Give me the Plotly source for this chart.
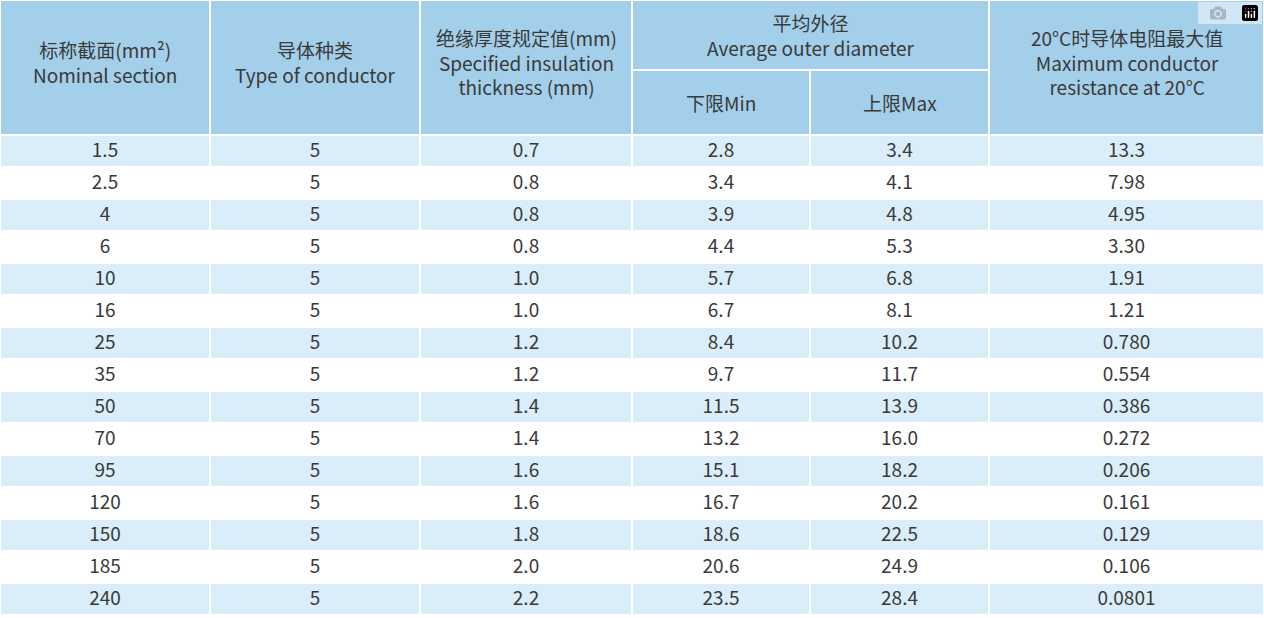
import plotly.graph_objects as go

sections = ["1.5","2.5","4","6","10","16","25","35","50","70","95","120","150","185","240"]
conductor = ["5"]*15
insulation = ["0.7","0.8","0.8","0.8","1.0","1.0","1.2","1.2","1.4","1.4","1.6","1.6","1.8","2.0","2.2"]
dmin = ["2.8","3.4","3.9","4.4","5.7","6.7","8.4","9.7","11.5","13.2","15.1","16.7","18.6","20.6","23.5"]
dmax = ["3.4","4.1","4.8","5.3","6.8","8.1","10.2","11.7","13.9","16.0","18.2","20.2","22.5","24.9","28.4"]
resist = ["13.3","7.98","4.95","3.30","1.91","1.21","0.780","0.554","0.386","0.272","0.206","0.161","0.129","0.106","0.0801"]

headers = ["标称截面(mm²)<br>Nominal section", "导体种类<br>Type of conductor",
           "绝缘厚度规定值(mm)<br>Specified insulation<br>thickness (mm)",
           "下限Min", "上限Max", "20°C时导体电阻最大值<br>Maximum conductor<br>resistance at 20°C"]
group_header = "平均外径<br>Average outer diameter"

W, H = 1264, 618
edges = [0, 210, 420, 632, 810, 989, 1264]
widths = [edges[i+1]-edges[i] for i in range(6)]
HDR = 135
ROW = 32
HC = "#a3cfea"
LC = "#d9eef9"
TC = "#3a3a3a"
FONT = "Noto Sans CJK SC"

fills = [LC if i % 2 == 0 else "white" for i in range(len(sections))]

fig = go.Figure(go.Table(
    columnwidth=widths,
    header=dict(values=[""]*6, height=HDR, fill_color=HC, line=dict(color="white", width=2)),
    cells=dict(values=[sections, conductor, insulation, dmin, dmax, resist],
               height=ROW, fill_color=[fills]*6, line=dict(color="white", width=2),
               align="center", font=dict(family=FONT, size=19, color=TC)),
    domain=dict(x=[0, 1], y=[0, 1]),
))

def px(x):
    return x / W
def py(y):
    return 1 - y / H

shapes = [dict(type="line", xref="paper", yref="paper", x0=px(edges[3]), x1=px(edges[5]),
               y0=py(70), y1=py(70), line=dict(color="white", width=2)),
          dict(type="rect", xref="paper", yref="paper", x0=px(edges[4]-2), x1=px(edges[4]+2),
               y0=py(1), y1=py(69), fillcolor=HC, line=dict(width=0))]
ann = []
for i, t in enumerate(headers):
    xc = (edges[i] + edges[i+1]) / 2
    yc = 102 if i in (3, 4) else 62
    ann.append(dict(text=t, x=px(xc), y=py(yc), xref="paper", yref="paper", showarrow=False,
                    xanchor="center", yanchor="middle",
                    font=dict(family=FONT, size=19, color=TC), align="center"))
ann.append(dict(text=group_header, x=px((edges[3]+edges[5])/2), y=py(35), xref="paper", yref="paper",
                xanchor="center", yanchor="middle",
                showarrow=False, font=dict(family=FONT, size=19, color=TC), align="center"))

fig.update_layout(width=W, height=H, margin=dict(l=0, r=0, t=0, b=0),
                  paper_bgcolor="white", shapes=shapes, annotations=ann)
fig.write_html("out.html", post_script="document.body.style.margin='0';")
